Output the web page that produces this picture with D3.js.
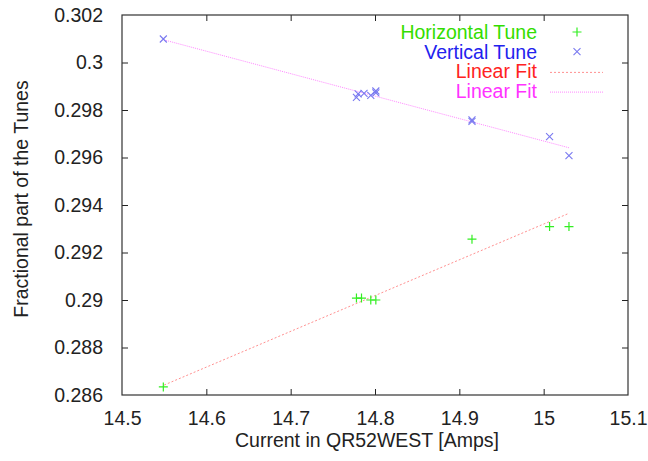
<!DOCTYPE html>
<html>
<head>
<meta charset="utf-8">
<script src="https://cdn.jsdelivr.net/npm/d3@7"></script>
<style>
  body { margin: 0; background: #fff; }
  text { font-family: "Liberation Sans", Arial, sans-serif; }
</style>
</head>
<body>
<div id="chart"></div>
<script>
// --------------------------------------
//  Data
// --------------------------------------

const hCurrent = [14.549, 14.778, 14.784, 14.795, 14.801, 14.915, 15.007, 15.030];
const hTune    = [0.28634, 0.29008, 0.29008, 0.29000, 0.29000, 0.29256, 0.29309, 0.29309];

const vCurrent = [14.549, 14.778, 14.780, 14.787, 14.795, 14.801, 14.801, 14.915, 14.915, 15.007, 15.030];
const vTune    = [0.30099, 0.29853, 0.29868, 0.29870, 0.29862, 0.29880, 0.29872, 0.29752, 0.29758, 0.29688, 0.29608];

// linear fits, evaluated at the ends of the data range
const fitCurrent = [14.55, 15.03];
const hFit = [0.28642, 0.29365];
const vFit = [0.30095, 0.29641];

const xTicks = [14.5, 14.6, 14.7, 14.8, 14.9, 15, 15.1];
const xTickLabels = ["14.5", "14.6", "14.7", "14.8", "14.9", "15", "15.1"];
const yTicks = [0.286, 0.288, 0.29, 0.292, 0.294, 0.296, 0.298, 0.3, 0.302];
const yTickLabels = ["0.286", "0.288", "0.29", "0.292", "0.294", "0.296", "0.298", "0.3", "0.302"];

const legendLabels = ["Horizontal Tune", "Vertical Tune", "Linear Fit", "Linear Fit"];

// --------------------------------------
//  Margin and canvas
// --------------------------------------

const width = 648;
const height = 461;
const margin = {top: 15, right: 20, bottom: 66, left: 122};
const innerWidth = width - margin.left - margin.right;
const innerHeight = height - margin.top - margin.bottom;

const svg = d3.select("#chart")
  .append("svg")
    .attr("width", width)
    .attr("height", height);

const inner = svg.append("g")
    .attr("transform", `translate(${margin.left}, ${margin.top})`);

// --------------------------------------
//  Scales
// --------------------------------------

const x = d3.scaleLinear().domain([14.5, 15.1]).range([0, innerWidth]);
const y = d3.scaleLinear().domain([0.286, 0.302]).range([innerHeight, 0]);

const fontSize = 19.5;
const textColor = "#222";
const tickLen = 6;

// --------------------------------------
//  Axes (gnuplot style: inward, mirrored)
// --------------------------------------

const axisStyle = g => {
  g.select(".domain").remove();
  g.selectAll(".tick line").attr("stroke", "#222");
  g.selectAll(".tick text")
    .attr("fill", textColor)
    .style("font-size", fontSize + "px");
};

inner.append("g")
    .attr("transform", `translate(0, ${innerHeight})`)
    .call(d3.axisBottom(x).tickValues(xTicks)
      .tickFormat((d, i) => xTickLabels[i])
      .tickSizeInner(-tickLen).tickSizeOuter(0).tickPadding(16))
    .call(axisStyle);

inner.append("g")
    .call(d3.axisLeft(y).tickValues(yTicks)
      .tickFormat((d, i) => yTickLabels[i])
      .tickSizeInner(-tickLen).tickSizeOuter(0).tickPadding(19))
    .call(axisStyle);

// mirrored ticks, no labels
inner.append("g")
    .call(d3.axisTop(x).tickValues(xTicks).tickSizeInner(-tickLen).tickSizeOuter(0))
    .call(axisStyle)
    .call(g => g.selectAll(".tick text").remove());

inner.append("g")
    .attr("transform", `translate(${innerWidth}, 0)`)
    .call(d3.axisRight(y).tickValues(yTicks).tickSizeInner(-tickLen).tickSizeOuter(0))
    .call(axisStyle)
    .call(g => g.selectAll(".tick text").remove());

// end ticks sit on the frame corners
inner.selectAll(".tick line")
  .filter(d => d === 14.5 || d === 15.1 || d === 0.286 || d === 0.302)
  .remove();

// frame
inner.append("rect")
    .attr("width", innerWidth)
    .attr("height", innerHeight)
    .attr("fill", "none")
    .attr("stroke", "#333")
    .attr("stroke-width", 1.2);

// axis titles
svg.append("text")
    .attr("x", margin.left + innerWidth / 2 - 8)
    .attr("y", 447)
    .attr("text-anchor", "middle")
    .attr("fill", textColor)
    .style("font-size", fontSize + "px")
    .text("Current in QR52WEST [Amps]");

svg.append("text")
    .attr("transform", `translate(28, ${margin.top + innerHeight / 2 - 6}) rotate(-90)`)
    .attr("text-anchor", "middle")
    .attr("fill", textColor)
    .style("font-size", fontSize + "px")
    .text("Fractional part of the Tunes");

// --------------------------------------
//  Data drawing
// --------------------------------------

const green = "#33ee22";
const blue = "#7a7af0";
const fitRed = "#ff9090";
const fitMagenta = "#ff88ff";

const line = d3.line().x(d => x(d[0])).y(d => y(d[1]));

// fit lines
inner.append("path")
    .datum(fitCurrent.map((c, i) => [c, hFit[i]]))
    .attr("d", line)
    .attr("fill", "none")
    .attr("stroke", fitRed)
    .attr("stroke-width", 1)
    .attr("stroke-dasharray", "2,2");

inner.append("path")
    .datum(fitCurrent.map((c, i) => [c, vFit[i]]))
    .attr("d", line)
    .attr("fill", "none")
    .attr("stroke", fitMagenta)
    .attr("stroke-width", 1)
    .attr("stroke-dasharray", "1,1");

// markers
const plus = (sel, s) => sel.attr("d", `M${-s},0H${s}M0,${-s}V${s}`);
const cross = (sel, s) => sel.attr("d", `M${-s},${-s}L${s},${s}M${-s},${s}L${s},${-s}`);

// horizontal tune: plus markers
inner.append("g")
  .selectAll("path")
  .data(hCurrent.map((c, i) => [c, hTune[i]]))
  .join("path")
    .attr("transform", d => `translate(${x(d[0])}, ${y(d[1])})`)
    .call(plus, 4.5)
    .attr("stroke", green)
    .attr("stroke-width", 1.2)
    .attr("fill", "none");

// vertical tune: x markers
inner.append("g")
  .selectAll("path")
  .data(vCurrent.map((c, i) => [c, vTune[i]]))
  .join("path")
    .attr("transform", d => `translate(${x(d[0])}, ${y(d[1])})`)
    .call(cross, 3.5)
    .attr("stroke", blue)
    .attr("stroke-width", 1.1)
    .attr("fill", "none");

// --------------------------------------
//  Legend
// --------------------------------------

const legendColors = ["#33dd00", "#2222ee", "#ff2222", "#ff33ff"];
const legendY0 = 32;
const legendStep = 19.7;

const legend = svg.append("g");

legend.selectAll("text")
  .data(legendLabels)
  .join("text")
    .attr("x", 537)
    .attr("y", (d, i) => legendY0 + i * legendStep)
    .attr("dy", "0.35em")
    .attr("text-anchor", "end")
    .attr("fill", (d, i) => legendColors[i])
    .style("font-size", fontSize + "px")
    .text(d => d);

legend.append("path")
    .attr("transform", `translate(577, ${legendY0})`)
    .call(plus, 4.5)
    .attr("stroke", green).attr("stroke-width", 1.2);

legend.append("path")
    .attr("transform", `translate(577, ${legendY0 + legendStep})`)
    .call(cross, 3.5)
    .attr("stroke", blue).attr("stroke-width", 1.1);

legend.append("line")
    .attr("x1", 550).attr("x2", 603)
    .attr("y1", legendY0 + 2 * legendStep + 1).attr("y2", legendY0 + 2 * legendStep + 1)
    .attr("stroke", fitRed).attr("stroke-dasharray", "2,2");

legend.append("line")
    .attr("x1", 550).attr("x2", 603)
    .attr("y1", legendY0 + 3 * legendStep + 1).attr("y2", legendY0 + 3 * legendStep + 1)
    .attr("stroke", fitMagenta).attr("stroke-dasharray", "1,1");
</script>
</body>
</html>
